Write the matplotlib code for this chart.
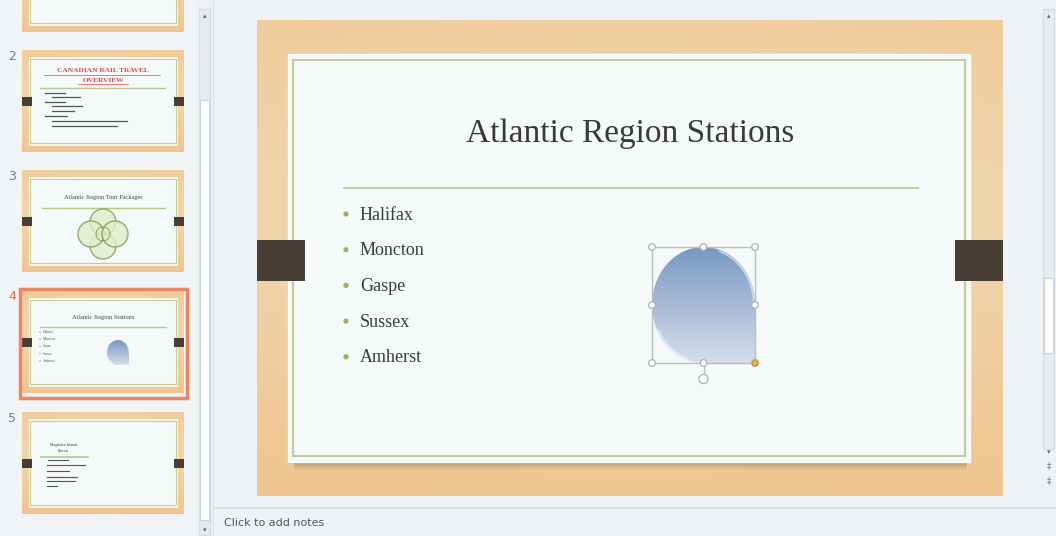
import numpy as np
import matplotlib.pyplot as plt
from matplotlib.patches import Rectangle, Circle, PathPatch
from matplotlib.path import Path

# Datos de la captura
titulo = "Atlantic Region Stations"
estaciones = ["Halifax", "Moncton", "Gaspe", "Sussex", "Amherst"]
numeros = ["2", "3", "4", "5"]
titulo_d2 = ["CANADIAN RAIL TRAVEL", "OVERVIEW"]
titulo_d3 = "Atlantic Region Tour Packages"
nota = "Click to add notes"

W, H = 1056, 536
fig = plt.figure(figsize=(10.56, 5.36), dpi=100)
fig.patch.set_facecolor('#eef2f4')
ax = fig.add_axes([0, 0, 1, 1])
ax.set_xlim(0, W)
ax.set_ylim(H, 0)
ax.axis('off')

SERIF = ['Liberation Serif', 'DejaVu Serif']


def madera(w, h):
    yy = np.linspace(0, 1, h)[:, None]
    xx = np.linspace(0, 1, w)[None, :]
    luz = np.exp(-((yy - 0.45) / 0.5) ** 2) * (0.75 + 0.25 * np.exp(-((xx - 0.5) / 0.35) ** 2))
    luz = luz * (1 - 0.4 * yy)
    c1 = np.array([0.94, 0.76, 0.53])
    c2 = np.array([0.94, 0.87, 0.74])
    return c1 + (c2 - c1) * luz[..., None]


def diapositiva(x0, y0, w, h, lw=1.5):
    ax.imshow(madera(max(int(w), 2), max(int(h), 2)), extent=[x0, x0 + w, y0 + h, y0],
              aspect='auto', zorder=1, interpolation='bilinear')
    mx1, mx2, my = 0.0416 * w, 0.044 * w, 0.0714 * h
    # sombra suave
    for k, a in [(0.016, 0.12), (0.011, 0.18), (0.006, 0.25)]:
        ax.add_patch(Rectangle((x0 + mx1 + 0.008 * w, y0 + my + k * h), w - mx1 - mx2 - 0.012 * w,
                               h - 2 * my, fc='#8a7a68', ec='none', alpha=a, zorder=2))
    ax.add_patch(Rectangle((x0 + mx1, y0 + my), w - mx1 - mx2, h - 2 * my,
                           fc='#f6f9f9', ec='#ffffff', lw=lw * 0.6, zorder=3))
    ix, iy = 0.0065 * w, 0.0125 * h
    ax.add_patch(Rectangle((x0 + mx1 + ix, y0 + my + iy), w - mx1 - mx2 - 2 * ix, h - 2 * my - 2 * iy,
                           fc='none', ec='#c0cd96', lw=lw, zorder=4))
    tw, ty, th = 0.064 * w, 0.462 * h, 0.086 * h
    ax.add_patch(Rectangle((x0, y0 + ty), tw, th, fc='#463d35', ec='none', zorder=5))
    ax.add_patch(Rectangle((x0 + w - tw, y0 + ty), tw, th, fc='#463d35', ec='none', zorder=5))


def gota(x0, y0, w, h, zorder=6):
    cx, cy, rx, ry = x0 + w / 2, y0 + h / 2, w / 2, h / 2
    t1 = np.linspace(np.pi, 2 * np.pi, 60)
    t2 = np.linspace(0.5 * np.pi, np.pi, 30)
    pts = [(cx + rx * np.cos(t), cy + ry * np.sin(t)) for t in t1]
    pts += [(x0 + w, y0 + h), (cx, y0 + h)]
    pts += [(cx + rx * np.cos(t), cy + ry * np.sin(t)) for t in t2]
    patch = PathPatch(Path(pts + [pts[0]], closed=True), fc='none', ec='none', zorder=zorder)
    ax.add_patch(patch)
    grad = np.linspace(0, 1, 100)[:, None, None]
    arriba = np.array([0.47, 0.60, 0.76])
    abajo = np.array([0.84, 0.87, 0.92])
    img = arriba + (abajo - arriba) * grad
    im = ax.imshow(img, extent=[x0, x0 + w, y0 + h, y0], aspect='auto', zorder=zorder,
                   interpolation='bilinear')
    im.set_clip_path(patch)
    # brillo del borde
    t = np.linspace(1.6 * np.pi, 2 * np.pi, 40)
    ax.plot(cx + (rx - 0.012 * w) * np.cos(t), cy + (ry - 0.012 * h) * np.sin(t),
            color='white', lw=max(w / 100, 0.3), alpha=0.6, zorder=zorder + 0.5)
    t = np.linspace(0.6 * np.pi, 0.85 * np.pi, 30)
    ax.plot(cx + (rx - 0.012 * w) * np.cos(t), cy + (ry - 0.012 * h) * np.sin(t),
            color='white', lw=max(w / 100, 0.3), alpha=0.6, zorder=zorder + 0.5)


# Panel izquierdo: miniaturas
ax.add_patch(Rectangle((0, 0), 197, H, fc='#f1f4f6', ec='none', zorder=0))
tops = [-70, 50, 170, 291, 412]
for y0 in tops:
    diapositiva(22, y0, 162, 102, lw=0.8)

ax.add_patch(Rectangle((19.5, 289), 167, 109, fc='none', ec='#ef8462', lw=2.5, zorder=7))

for num, y0 in zip(numeros, tops[1:]):
    color = '#e8703a' if num == "4" else '#7a7a7a'
    ax.text(12, y0 + 6, num, fontsize=9, color=color, ha='center', va='center', zorder=8)

# diapositiva 2
ax.text(103, 71, titulo_d2[0], fontsize=5.3, color='#e04848', ha='center', va='center',
        family=SERIF, weight='bold', zorder=8)
ax.text(103, 80, titulo_d2[1], fontsize=5.3, color='#e04848', ha='center', va='center',
        family=SERIF, weight='bold', zorder=8)
ax.plot([44, 160], [74.5, 74.5], color='#e04848', lw=0.5, zorder=8)
ax.plot([78, 128], [83.5, 83.5], color='#e04848', lw=0.5, zorder=8)
ax.plot([40, 165], [88, 88], color='#b8c98a', lw=1, zorder=8)
renglones = [(45, 93, 20), (52, 97, 28), (45, 102, 20), (52, 106, 30), (52, 111, 22),
             (45, 116, 22), (52, 121, 75), (52, 126, 65)]
for x, y, largo in renglones:
    ax.plot([x, x + largo], [y, y], color='#555555', lw=0.9, zorder=8)

# diapositiva 3
ax.text(103, 197, titulo_d3, fontsize=4.5, color='#444444', ha='center', va='center',
        family=SERIF, zorder=8)
ax.plot([42, 165], [208, 208], color='#b8c98a', lw=1, zorder=8)
for dx, dy in [(0, -12), (0, 12), (-12, 0), (12, 0)]:
    ax.add_patch(Circle((103 + dx, 234 + dy), 13, fc='#e4eccc', ec='#7c9a52', lw=1.0,
                        alpha=0.8, zorder=8))
ax.add_patch(Circle((103, 234), 7, fc='none', ec='#7c9a52', lw=0.6, zorder=9))

# diapositiva 4
ax.text(103, 317, titulo, fontsize=4.5, color='#444444', ha='center', va='center',
        family=SERIF, zorder=8)
ax.plot([40, 166], [327, 327], color='#b8c98a', lw=1, zorder=8)
for i, est in enumerate(estaciones):
    y = 332 + i * 7.2
    ax.add_patch(Circle((40, y), 0.8, fc='#9bb35a', ec='none', zorder=8))
    ax.text(43, y, est, fontsize=2.6, color='#555555', va='center', family=SERIF, zorder=8)
gota(107, 340, 22, 25, zorder=8)

# diapositiva 5
ax.text(64, 445, "Magdalen Islands", fontsize=2.8, color='#444444', ha='center', va='center',
        family=SERIF, zorder=8)
ax.text(64, 451, "Retreat", fontsize=2.8, color='#444444', ha='center', va='center',
        family=SERIF, zorder=8)
ax.plot([41, 88], [457, 457], color='#b8c98a', lw=1.2, zorder=8)
for x, y, largo in [(48, 460, 20), (47, 465, 38), (47, 471, 22), (47, 477, 30), (47, 481, 28),
                    (47, 486, 10)]:
    ax.plot([x, x + largo], [y, y], color='#555555', lw=0.8, zorder=8)

# barras de desplazamiento
ax.add_patch(Rectangle((199, 9), 11, 526, fc='#e6ebee', ec='#d5dadd', lw=0.8, zorder=1))
ax.add_patch(Rectangle((200, 100), 9, 420, fc='#ffffff', ec='#d0d5d8', lw=0.8, zorder=2))
ax.text(204.5, 16, '▴', fontsize=5, color='#666', ha='center', va='center', zorder=3)
ax.text(204.5, 530, '▾', fontsize=5, color='#666', ha='center', va='center', zorder=3)
ax.plot([213, 213], [0, H], color='#dde2e5', lw=1, zorder=1)

ax.add_patch(Rectangle((1043, 9), 11, 440, fc='#e6ebee', ec='#d5dadd', lw=0.8, zorder=1))
ax.add_patch(Rectangle((1044, 278), 9, 75, fc='#ffffff', ec='#d0d5d8', lw=0.8, zorder=2))
ax.text(1048.5, 16, '▴', fontsize=5, color='#666', ha='center', va='center', zorder=3)
ax.text(1048.5, 452, '▾', fontsize=5, color='#666', ha='center', va='center', zorder=3)
for y in [466, 481]:
    ax.text(1048.5, y, '‡', fontsize=6, color='#777', ha='center', va='center', zorder=3)

# diapositiva principal
diapositiva(257, 20, 746, 476)
ax.text(630, 134, titulo, fontsize=24, color='#3a3a3a', ha='center', va='center',
        family=SERIF, zorder=8)
ax.plot([344, 918], [188, 188], color='#c3d19e', lw=1.5, zorder=8)
for i, est in enumerate(estaciones):
    y = 214 + i * 35.7
    ax.add_patch(Circle((346, y), 2.6, fc='#9bb35a', ec='none', zorder=8))
    ax.text(360, y + 1, est, fontsize=13, color='#3c3c3c', va='center', family=SERIF, zorder=8)

# forma seleccionada
gota(652, 247, 103, 116, zorder=8)
ax.add_patch(Rectangle((652, 247), 103, 116, fc='none', ec='#bcbcbc', lw=1, zorder=10))
ax.plot([703.5, 703.5], [363, 374], color='#bcbcbc', lw=1, zorder=10)
ax.add_patch(Circle((703.5, 379), 4.5, fc='white', ec='#b5b5b5', lw=1, zorder=11))
for hx in [652, 703.5, 755]:
    for hy in [247, 305, 363]:
        if hx == 703.5 and hy == 305:
            continue
        ax.add_patch(Circle((hx, hy), 3.3, fc='white', ec='#b0b0b0', lw=0.9, zorder=11))
ax.add_patch(Circle((755, 363), 3, fc='#e2b448', ec='#c89830', lw=0.8, zorder=12))

# notas
ax.add_patch(Rectangle((214, 508), W - 214, 28, fc='#eff3f5', ec='none', zorder=1))
ax.plot([214, W], [508, 508], color='#d8dde1', lw=1.2, zorder=2)
ax.text(224, 523, nota, fontsize=8, color='#555555', va='center',
        family=['Liberation Sans Narrow', 'DejaVu Sans'], zorder=3)

fig.savefig('out.png', dpi=100)
